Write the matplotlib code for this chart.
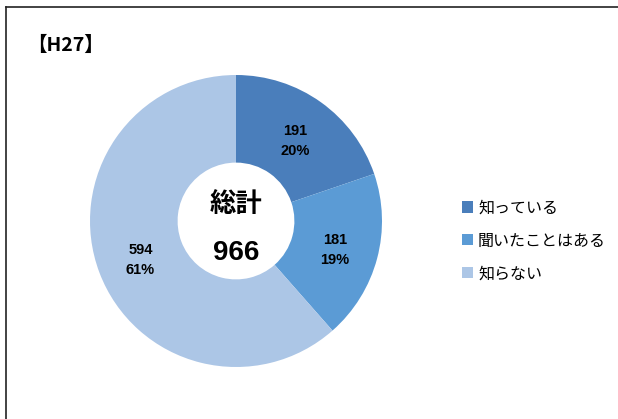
import numpy as np
import matplotlib
matplotlib.use('Agg')
import matplotlib.pyplot as plt
from matplotlib.lines import Line2D

plt.rcParams['font.family'] = ['Noto Sans CJK JP', 'DejaVu Sans']

#######################################################################
# Data
title = '【H27】'
categories = ['知っている', '聞いたことはある', '知らない']
counts = [191, 181, 594]
center_label = '総計'
colors = ['#4A7EBB', '#5B9BD5', '#ACC6E6']

total = sum(counts)

#######################################################################
# Figure
W, H = 618, 419
fig = plt.figure(figsize=(W / 100, H / 100), dpi=100)

# donut centre and radius in pixels
cx, cy, R = 236, 221, 146
ax = fig.add_axes([(cx - R) / W, (H - cy - R) / H, 2 * R / W, 2 * R / H])

wedges, _ = ax.pie(counts, colors=colors, startangle=90, counterclock=False,
                   radius=1.0, wedgeprops=dict(width=0.60, edgecolor='none'))
ax.set_xlim(-1, 1)
ax.set_ylim(-1, 1)
ax.set_aspect('equal')
ax.axis('off')

# data labels
for w, c in zip(wedges, counts):
    mid = np.deg2rad((w.theta1 + w.theta2) / 2)
    r = 0.70
    ax.text(r * np.cos(mid), r * np.sin(mid) - 0.02,
            '%d\n%d%%' % (c, round(100 * c / total)),
            ha='center', va='center', fontsize=10.5, fontweight='bold',
            linespacing=1.55, family=['Liberation Sans', 'DejaVu Sans'])

# centre text
ax.text(0, 0.11, center_label, ha='center', va='center', fontsize=19,
        fontweight='bold')
ax.text(0, -0.22, str(total), ha='center', va='center', fontsize=20,
        fontweight='bold', family=['Liberation Sans', 'DejaVu Sans'])

# title
fig.text(27 / W, 1 - 45 / H, title, ha='left', va='center', fontsize=14,
         fontweight='bold')

# legend
fig.legend(wedges, categories, loc='center left',
           bbox_to_anchor=(454 / W, 1 - 241 / H), frameon=False,
           fontsize=11.5, handlelength=0.7, handleheight=0.7,
           handletextpad=0.3, labelspacing=1.0, borderpad=0)

# frame lines (top and left)
fig.add_artist(Line2D([6 / W, 1], [1 - 7 / H, 1 - 7 / H], color='#222222',
                      lw=1.2, transform=fig.transFigure))
fig.add_artist(Line2D([6 / W, 6 / W], [0, 1 - 7 / H], color='#222222',
                      lw=1.2, transform=fig.transFigure))

fig.savefig('out.png', dpi=100)
